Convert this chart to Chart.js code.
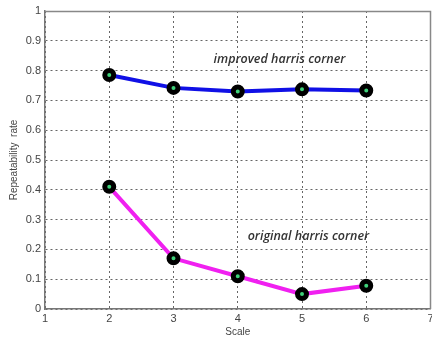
<!DOCTYPE html>
<html>
<head>
<meta charset="utf-8">
<script src="https://cdn.jsdelivr.net/npm/chart.js@4"></script>
<style>
  html, body { margin: 0; padding: 0; background: #fff; }
  #wrap { width: 432px; height: 338px; overflow: hidden; }
</style>
</head>
<body>
<div id="wrap"><canvas id="chart" width="440" height="338"></canvas></div>
<script>
// Data
const scales = [2, 3, 4, 5, 6];
const improvedRate = [0.785, 0.742, 0.730, 0.737, 0.733];
const originalRate = [0.410, 0.170, 0.110, 0.050, 0.078];
const xTicks = [1, 2, 3, 4, 5, 6, 7];
const yTicks = [0, 0.1, 0.2, 0.3, 0.4, 0.5, 0.6, 0.7, 0.8, 0.9, 1];
const notes = [
    { text: 'improved harris corner', x: 4.65, y: 0.836 },
    { text: 'original harris corner', x: 5.1, y: 0.245 }
];

// draws the in-plot labels and the top/right frame lines
const notesPlugin = {
    id: 'notes',
    afterDatasetsDraw(chart) {
        const ctx = chart.ctx;
        const xs = chart.scales.x;
        const ys = chart.scales.y;
        const area = chart.chartArea;
        ctx.save();
        ctx.strokeStyle = '#888';
        ctx.lineWidth = 1.5;
        ctx.beginPath();
        ctx.moveTo(area.left, area.top + 0.5);
        ctx.lineTo(area.right, area.top + 0.5);
        ctx.lineTo(area.right, area.bottom);
        ctx.stroke();
        ctx.font = 'italic 600 12.5px "Open Sans", sans-serif';
        ctx.fillStyle = '#333';
        ctx.textAlign = 'center';
        ctx.textBaseline = 'middle';
        notes.forEach(n => {
            ctx.fillText(n.text, xs.getPixelForValue(n.x), ys.getPixelForValue(n.y));
        });
        ctx.restore();
    }
};

function toPoints(vals) {
    return scales.map((s, i) => ({ x: s, y: vals[i] }));
}

const ctx = document.getElementById('chart').getContext('2d');
new Chart(ctx, {
    type: 'line',
    data: {
        datasets: [
            {
                label: 'improved harris corner',
                data: toPoints(improvedRate),
                borderColor: '#1010e6',
                borderWidth: 4,
                pointRadius: 4.5,
                pointBorderWidth: 5,
                pointBorderColor: '#000',
                pointBackgroundColor: '#3fd27a',
                tension: 0
            },
            {
                label: 'original harris corner',
                data: toPoints(originalRate),
                borderColor: '#f020f0',
                borderWidth: 4,
                pointRadius: 4.5,
                pointBorderWidth: 5,
                pointBorderColor: '#000',
                pointBackgroundColor: '#3fd27a',
                tension: 0
            }
        ]
    },
    options: {
        responsive: false,
        animation: false,
        layout: { padding: { top: 11, right: 0, left: 0, bottom: 0 } },
        plugins: {
            legend: { display: false },
            tooltip: { enabled: false }
        },
        scales: {
            x: {
                type: 'linear',
                min: 1,
                max: 7,
                afterBuildTicks: axis => { axis.ticks = xTicks.map(v => ({ value: v })); },
                afterFit: axis => { axis.height = 29; },
                grid: { color: '#666', drawTicks: false },
                border: { display: true, color: '#777', width: 1.5, dash: [2, 3] },
                ticks: { color: '#444', font: { family: 'Liberation Sans', size: 11 }, padding: 3 },
                title: { display: true, text: 'Scale', color: '#444', font: { family: 'Liberation Sans', size: 10 }, padding: 0 }
            },
            y: {
                min: 0,
                max: 1,
                afterBuildTicks: axis => { axis.ticks = yTicks.map(v => ({ value: v })); },
                afterFit: axis => { axis.width = 45; },
                grid: { color: '#666', drawTicks: false },
                border: { display: true, color: '#777', width: 1.5, dash: [2, 3] },
                ticks: {
                    color: '#444',
                    font: { family: 'Liberation Sans', size: 11 },
                    padding: 4,
                    callback: v => String(Math.round(v * 10) / 10)
                },
                title: { display: true, text: 'Repeatability  rate', color: '#444', font: { family: 'Liberation Sans', size: 10 }, padding: { top: 8, bottom: 0 } }
            }
        }
    },
    plugins: [notesPlugin]
});
</script>
</body>
</html>
